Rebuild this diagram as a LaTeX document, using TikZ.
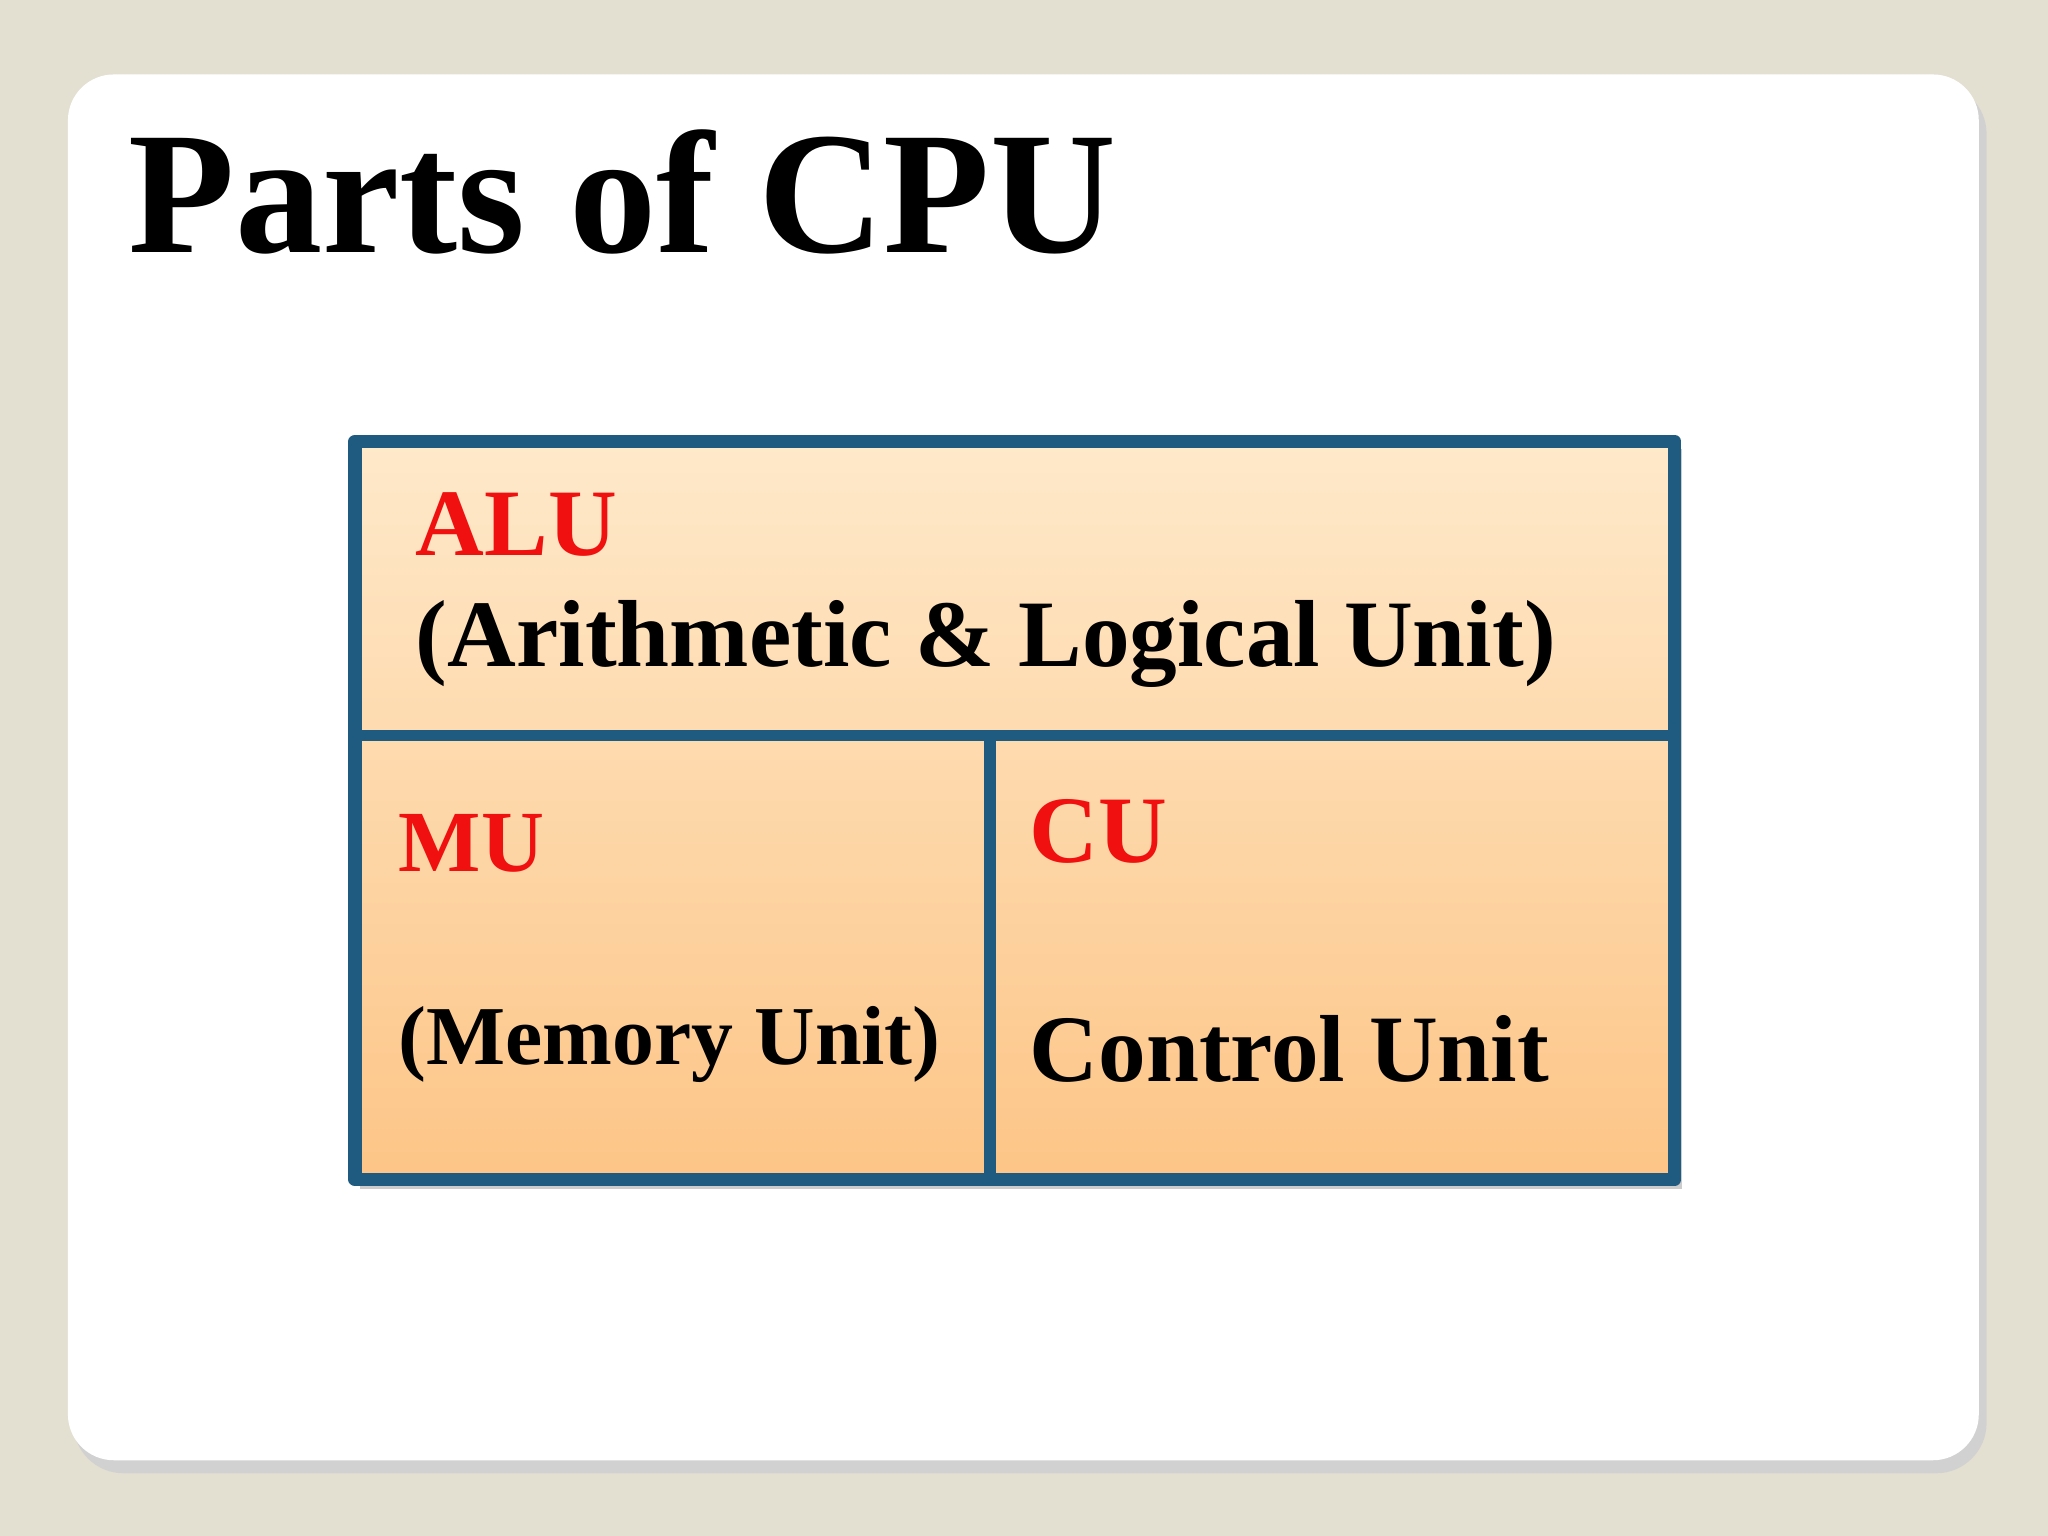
\documentclass[tikz,border=0pt]{standalone}
\usepackage{fontspec}
\setmainfont{Liberation Serif}
\definecolor{bg}{HTML}{E3E0D2}
\definecolor{frame}{HTML}{1F5A80}
\definecolor{ftop}{HTML}{FEE9CA}
\definecolor{fbot}{HTML}{FDC587}
\definecolor{lblred}{HTML}{F01010}
\begin{document}
\begin{tikzpicture}[x=0.02cm,y=-0.02cm,
  lbl/.style={anchor=base west,inner sep=0pt,font=\bfseries\fontsize{41.5}{50}\selectfont},
  red/.style={lbl,text=lblred},
  blk/.style={lbl,text=black}]
\fill[bg] (0,0) rectangle (1568,1176);
\useasboundingbox (0,0) rectangle (1568,1176);
\fill[black!18,rounded corners=22] (56,64) rectangle (1521,1128);
\fill[white,rounded corners=20] (52,57) rectangle (1515,1118);
\node[anchor=base west,inner sep=0pt,font=\bfseries\fontsize{76}{90}\selectfont] (title) at (98,193) {Parts of CPU};
\fill[black!20] (276,344) rectangle (1288,910);
\shade[top color=ftop,bottom color=fbot] (272,338) rectangle (1282,903);
\draw[frame,line width=6pt,line join=round] (272,338) rectangle (1282,903);
\coordinate (hl) at (272,563); \coordinate (hr) at (1282,563);
\coordinate (vt) at (758,563); \coordinate (vb) at (758,903);
\draw[frame,line width=5pt] (hl) -- (hr);
\draw[frame,line width=5pt] (vt) -- (vb);
\node[red] (alu) at (318,425) {ALU};
\node[blk] (alud) at (318,510) {(Arithmetic \& Logical Unit)};
\node[red,font=\bfseries\fontsize{38}{48}\selectfont] (mu) at (305,667) {MU};
\node[blk,font=\bfseries\fontsize{36.5}{48}\selectfont] (mud) at (305,815) {(Memory Unit)};
\node[red] (cu) at (788,660) {CU};
\node[blk] (cud) at (788,828) {Control Unit};
\end{tikzpicture}
\end{document}
